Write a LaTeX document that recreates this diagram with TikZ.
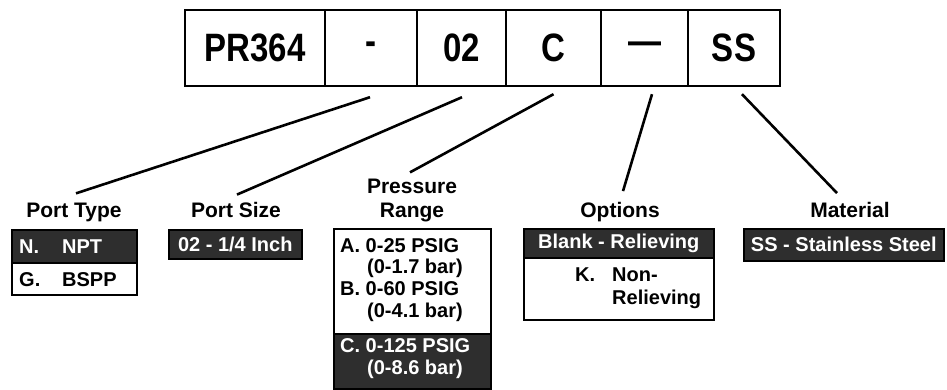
\documentclass[tikz,border=0pt]{standalone}
\usepackage{fontspec}
\setmainfont{Liberation Sans}
\usepackage{graphicx}
\usetikzlibrary{calc}
\tikzset{
  cell/.style={draw, line width=2.4pt, minimum height=76pt, inner sep=0pt,
    font=\bfseries\fontsize{33}{36}\selectfont},
  conn/.style={line width=2.6pt},
  lbl/.style={inner sep=0pt, anchor=base, font=\bfseries\fontsize{21}{24}\selectfont},
  band/.style={fill=black!82, draw=black, line width=1.6pt, inner sep=0pt, anchor=north west,
    text=white, font=\bfseries\fontsize{20}{22}\selectfont},
  frame/.style={draw, line width=2pt, inner sep=0pt, anchor=north west},
  txt/.style={inner sep=0pt, anchor=base west, font=\bfseries\fontsize{20}{22}\selectfont},
  bandtxt/.style={txt, text=white},
}
\begin{document}
\begin{tikzpicture}[x=1pt,y=-1pt]
\useasboundingbox (0,0) rectangle (947,389);
% top code cells
\node[cell, minimum width=140pt] (cpr) at (255,48) {\scalebox{1}[1.2]{PR364}};
\node[cell, minimum width=92pt] (cdash) at (371,48) {\scalebox{1}[1.2]{-}};
\node[cell, minimum width=89pt] (csize) at (461.5,48) {\scalebox{1}[1.2]{02}};
\node[cell, minimum width=95pt] (cpress) at (553.5,48) {\scalebox{1}[1.2]{C}};
\node[cell, minimum width=87pt] (copt) at (644.5,48) {\scalebox{1}[1.2]{\textemdash}};
\node[cell, minimum width=92pt] (cmat) at (734,48) {\scalebox{1}[1.2]{SS}};

% labels
\node[lbl] (lpt) at (74,217) {Port Type};
\node[lbl] (lps) at (236,217) {Port Size};
\node[lbl] (lpr1) at (412,193) {Pressure};
\node[lbl] (lpr2) at (412,217) {Range};
\node[lbl] (lop) at (620,217) {Options};
\node[lbl] (lma) at (850,217) {Material};

% connectors
\draw[conn] ($(cdash.south)+(-1,10)$) -- ($(lpt.north)+(2,-9)$);
\draw[conn] ($(csize.south)+(0.5,10)$) -- ($(lps.north)+(1,-7)$);
\draw[conn] ($(cpress.south)+(0,7)$) -- ($(lpr1.north)+(-2,-6)$);
\draw[conn] ($(copt.south)+(7.5,7)$) -- ($(lop.north)+(3,-10.5)$);
\draw[conn] ($(cmat.south)+(8,7)$) -- ($(lma.north)+(-13,-8.5)$);

% Port Type box
\node[frame, minimum width=125pt, minimum height=65pt] (ptbox) at (11,229) {};
\node[band, minimum width=125pt, minimum height=33pt] (ptband) at (11,229) {};
\node[bandtxt] (ptn) at (19,253) {N.};
\node[bandtxt] (ptnpt) at (62,253) {NPT};
\node[txt] (ptg) at (19,286) {G.};
\node[txt] (ptbspp) at (62,286) {BSPP};

% Port Size box
\node[band, minimum width=133pt, minimum height=29pt] (psband) at (168,229) {02 - 1/4 Inch};

% Pressure Range box
\node[frame, minimum width=157pt, minimum height=160pt] (prbox) at (333,228) {};
\node[txt] (pra1) at (340,252) {A. 0-25 PSIG};
\node[txt] (pra2) at (367,273) {(0-1.7 bar)};
\node[txt] (prb1) at (340,295) {B. 0-60 PSIG};
\node[txt] (prb2) at (367,317) {(0-4.1 bar)};
\node[band, minimum width=157pt, minimum height=55pt] (prband) at (333,333) {};
\node[bandtxt] (prc1) at (340,352) {C. 0-125 PSIG};
\node[bandtxt] (prc2) at (367,374) {(0-8.6 bar)};

% Options box
\node[frame, minimum width=190pt, minimum height=91pt] (opbox) at (523,228) {};
\node[band, minimum width=190pt, minimum height=29pt] (opband) at (523,228) {Blank - Relieving};
\node[txt] (opk) at (575,281) {K.};
\node[txt] (opk1) at (612,281) {Non-};
\node[txt] (opk2) at (612,304) {Relieving};

% Material box
\node[band, minimum width=200pt, minimum height=32pt] (maband) at (743,228) {SS - Stainless Steel};
\end{tikzpicture}
\end{document}
